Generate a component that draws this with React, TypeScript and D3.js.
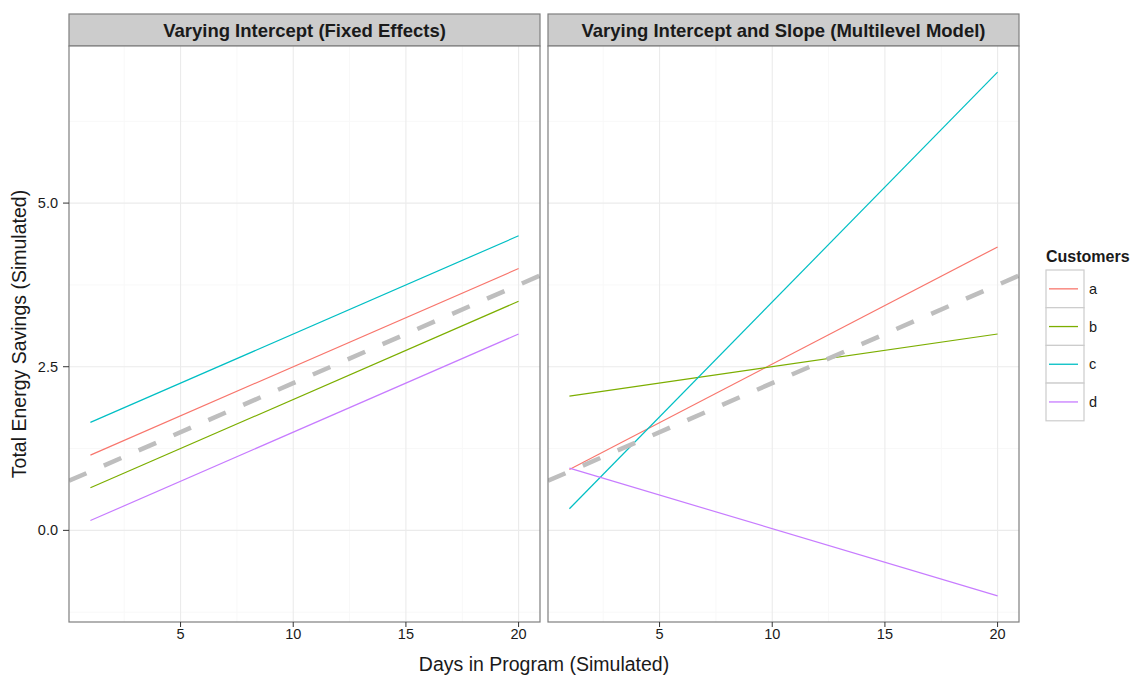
import React from "react";
import * as d3 from "d3";

// customers and their fitted lines (value at day 1 and day 20)
const customers = ["a", "b", "c", "d"];
const colors = ["#F8766D", "#7CAE00", "#00BFC4", "#C77CFF"];
const days = [1, 20];

const fixedA = [1.15, 4.0];
const fixedB = [0.65, 3.5];
const fixedC = [1.65, 4.5];
const fixedD = [0.15, 3.0];

const multiA = [0.93, 4.33];
const multiB = [2.05, 3.0];
const multiC = [0.33, 7.0];
const multiD = [0.95, -1.0];

// pooled trend (dashed grey reference line)
const trendIntercept = 0.75;
const trendSlope = 0.15;

const xTicks = [5, 10, 15, 20];
const xMinor = [2.5, 7.5, 12.5, 17.5];
const yTicks = [0, 2.5, 5];
const yMinor = [-1.25, 1.25, 3.75, 6.25];

const panels = [
  { title: "Varying Intercept (Fixed Effects)", series: [fixedA, fixedB, fixedC, fixedD] },
  { title: "Varying Intercept and Slope (Multilevel Model)", series: [multiA, multiB, multiC, multiD] },
];

const W = 1131;
const H = 677;
const panelX = [
  [69, 540],
  [548, 1019],
];
const stripTop = 14;
const plotTop = 46;
const plotBottom = 622;
const font = "'Liberation Sans', Arial, sans-serif";

const App = () => {
  const y = d3.scaleLinear().domain([-1.4, 7.4]).range([plotBottom, plotTop]);
  const xDomain = [0.05, 20.95];

  return (
    <svg width={W} height={H} style={{ position: "absolute", left: 0, top: 0, background: "#fff" }}>
      <defs>
        {panelX.map((px, i) => (
          <clipPath id={`clip${i}`} key={i}>
            <rect x={px[0]} y={plotTop} width={px[1] - px[0]} height={plotBottom - plotTop} />
          </clipPath>
        ))}
      </defs>
      {panels.map((p, i) => {
        const [x0, x1] = panelX[i];
        const x = d3.scaleLinear().domain(xDomain).range([x0, x1]);
        const line = d3
          .line<number>()
          .x((_, j) => x(days[j]))
          .y((v) => y(v));
        const trend = xDomain.map((d) => trendIntercept + trendSlope * d);
        return (
          <g key={i}>
            {/* strip */}
            <rect x={x0} y={stripTop} width={x1 - x0} height={plotTop - stripTop} fill="#CCCCCC" stroke="#7F7F7F" strokeWidth={1.2} />
            <text x={(x0 + x1) / 2} y={(stripTop + plotTop) / 2} dy="0.36em" textAnchor="middle"
              fontFamily={font} fontWeight="bold" fontSize={18.5} fill="#1a1a1a">
              {p.title}
            </text>
            {/* panel background + grid */}
            <rect x={x0} y={plotTop} width={x1 - x0} height={plotBottom - plotTop} fill="#fff" />
            {xMinor.map((t) => (
              <line key={"xm" + t} x1={x(t)} x2={x(t)} y1={plotTop} y2={plotBottom} stroke="#F8F8F8" strokeWidth={1} />
            ))}
            {yMinor.map((t) => (
              <line key={"ym" + t} x1={x0} x2={x1} y1={y(t)} y2={y(t)} stroke="#F8F8F8" strokeWidth={1} />
            ))}
            {xTicks.map((t) => (
              <line key={"xg" + t} x1={x(t)} x2={x(t)} y1={plotTop} y2={plotBottom} stroke="#EBEBEB" strokeWidth={1.1} />
            ))}
            {yTicks.map((t) => (
              <line key={"yg" + t} x1={x0} x2={x1} y1={y(t)} y2={y(t)} stroke="#EBEBEB" strokeWidth={1.1} />
            ))}
            <g clipPath={`url(#clip${i})`}>
              {p.series.map((s, k) => (
                <path key={k} d={line(s) || ""} fill="none" stroke={colors[k]} strokeWidth={1.2} />
              ))}
              <path
                d={d3.line<number>().x((_, j) => x(xDomain[j])).y((v) => y(v))(trend) || ""}
                fill="none" stroke="#BEBEBE" strokeWidth={4.5} strokeDasharray="19 19"
              />
            </g>
            <rect x={x0} y={plotTop} width={x1 - x0} height={plotBottom - plotTop} fill="none" stroke="#7F7F7F" strokeWidth={1.2} />
            {/* x axis */}
            {xTicks.map((t) => (
              <g key={"xt" + t}>
                <line x1={x(t)} x2={x(t)} y1={plotBottom} y2={plotBottom + 5} stroke="#333" strokeWidth={1} />
                <text x={x(t)} y={plotBottom + 17} textAnchor="middle" fontFamily={font} fontSize={14.5} fill="#1a1a1a">
                  {t}
                </text>
              </g>
            ))}
            {/* y axis on first panel only */}
            {i === 0 &&
              yTicks.map((t) => (
                <g key={"yt" + t}>
                  <line x1={x0 - 6} x2={x0} y1={y(t)} y2={y(t)} stroke="#333" strokeWidth={1} />
                  <text x={x0 - 11} y={y(t)} dy="0.35em" textAnchor="end" fontFamily={font} fontSize={14.5} fill="#1a1a1a">
                    {d3.format(".1f")(t)}
                  </text>
                </g>
              ))}
          </g>
        );
      })}
      {/* axis titles */}
      <text x={(panelX[0][0] + panelX[1][1]) / 2} y={664} dy="0.35em" textAnchor="middle" fontFamily={font} fontSize={19.5} fill="#1a1a1a">
        Days in Program (Simulated)
      </text>
      <text transform={`translate(19,${(plotTop + plotBottom) / 2}) rotate(-90)`} dy="0.35em" textAnchor="middle"
        fontFamily={font} fontSize={19.5} fill="#1a1a1a">
        Total Energy Savings (Simulated)
      </text>
      {/* legend */}
      <g transform="translate(1046,250)">
        <text x={0} y={6} dy="0.35em" fontFamily={font} fontWeight="bold" fontSize={16} fill="#1a1a1a">
          Customers
        </text>
        {customers.map((c, k) => (
          <g key={c} transform={`translate(0,${20 + k * 37.7})`}>
            <rect x={0} y={0} width={38} height={37.7} fill="#fff" stroke="#CCCCCC" strokeWidth={1.2} />
            <line x1={3} x2={32} y1={18.85} y2={18.85} stroke={colors[k]} strokeWidth={1.3} />
            <text x={43} y={18.85} dy="0.35em" fontFamily={font} fontSize={14.5} fill="#1a1a1a">
              {c}
            </text>
          </g>
        ))}
      </g>
    </svg>
  );
};

export default App;
